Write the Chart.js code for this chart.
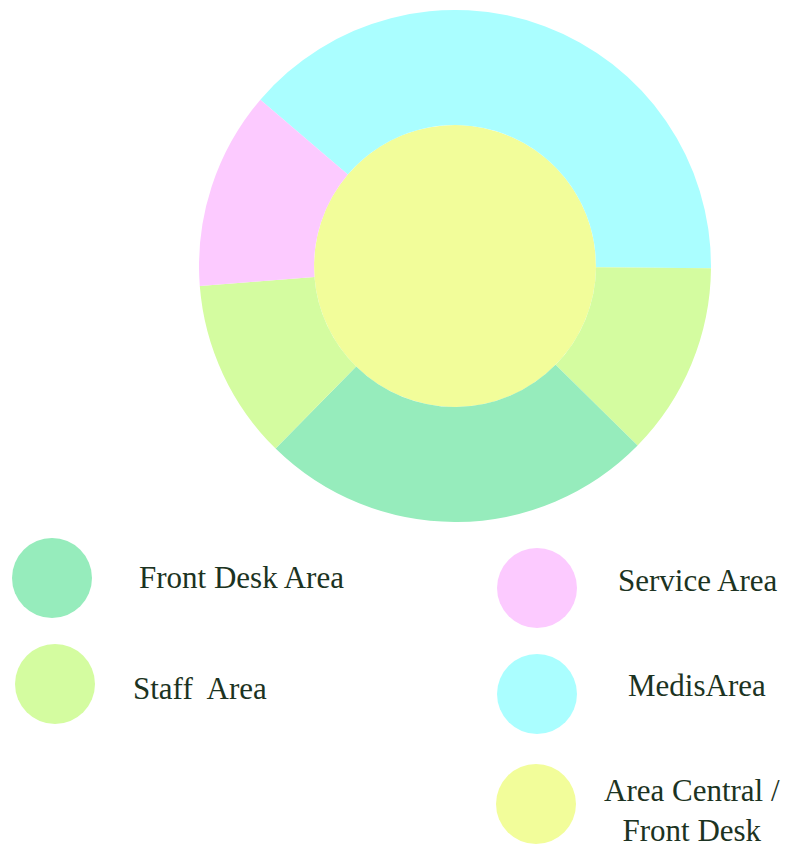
<!DOCTYPE html>
<html>
<head>
<meta charset="utf-8">
<script src="https://cdn.jsdelivr.net/npm/chart.js@4/dist/chart.umd.min.js"></script>
<style>
  body { margin: 0; background: #fff; width: 792px; height: 849px; position: relative; overflow: hidden; }
  #wrap { position: absolute; left: 199px; top: 10px; width: 512px; height: 512px; }
  .dot { position: absolute; width: 80px; height: 80px; border-radius: 50%; }
  .lbl { position: absolute; font-family: "Liberation Serif", "DejaVu Serif", serif; font-size: 31px; color: #1c3322; line-height: 40px; white-space: nowrap; }
</style>
</head>
<body>
<div id="wrap"><canvas id="chart-donut"></canvas></div>
<div id="legend"></div>
<script>
// anillo exterior (en orden, desde la division rosa/celeste, sentido horario)
const etiquetasAnillo = ["MedisArea", "Staff Area", "Front Desk Area", "Staff Area", "Service Area"];
const valoresAnillo = [140, 44, 90, 41, 45];
const coloresAnillo = ["#aafeff", "#d4fca0", "#96ecbc", "#d4fca0", "#fccaff"];

// circulo central
const etiquetaCentro = ["Area Central / Front Desk"];
const valorCentro = [1];
const colorCentro = ["#f2fd9a"];

// leyenda
const leyendaTextos = ["Front Desk Area", "Staff  Area", "Service Area", "MedisArea", "Area Central /<br>Front Desk"];
const leyendaColores = ["#96ecbc", "#d4fca0", "#fccaff", "#aafeff", "#f2fd9a"];

const contenedor = document.querySelector("#chart-donut").getContext("2d");

const chartDonut = new Chart(contenedor, {
  type: "doughnut",
  data: {
    labels: etiquetasAnillo,
    datasets: [
      {
        data: valoresAnillo,
        backgroundColor: coloresAnillo,
        borderWidth: 0,
        weight: 115,
      },
      {
        data: valorCentro,
        backgroundColor: colorCentro,
        borderWidth: 0,
        weight: 141,
      },
    ],
  },
  options: {
    responsive: true,
    maintainAspectRatio: false,
    animation: false,
    cutout: 0,
    rotation: -49.5,
    plugins: {
      legend: { display: false },
      tooltip: { enabled: false },
    },
  },
});

// posiciones de la leyenda
const dots = [[12, 538], [15, 644], [497, 548], [497, 654], [496, 764]];
const textos = [[139, 558], [133, 669], [618, 561], [628, 666], [604, 771]];
const legend = document.querySelector("#legend");
leyendaTextos.forEach((t, i) => {
  const d = document.createElement("div");
  d.className = "dot";
  d.style.left = dots[i][0] + "px";
  d.style.top = dots[i][1] + "px";
  d.style.background = leyendaColores[i];
  legend.appendChild(d);
  const l = document.createElement("div");
  l.className = "lbl";
  l.style.left = textos[i][0] + "px";
  l.style.top = textos[i][1] + "px";
  if (i === 4) l.style.textAlign = "center";
  l.innerHTML = t.replace("  ", "&nbsp; ");
  legend.appendChild(l);
});
</script>
</body>
</html>
